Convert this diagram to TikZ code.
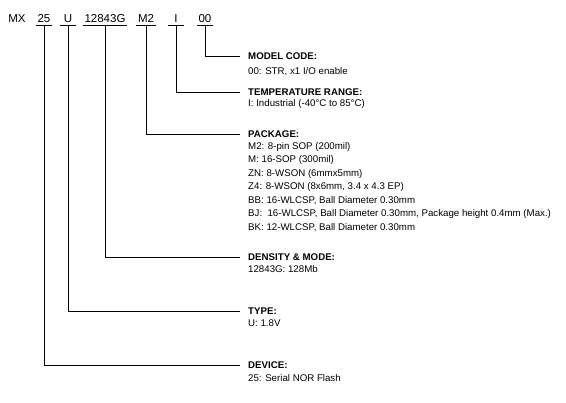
\documentclass[tikz,border=0pt]{standalone}
\usepackage{fontspec}
\setmainfont{Liberation Sans}
\usepackage{tikz}

\begin{document}
\begin{tikzpicture}[x=1pt, y=-1pt,
	fld/.style={anchor=base, inner xsep=1.5pt, inner ysep=2pt, minimum width=16pt, font=\fontsize{11.5}{13}\selectfont},
	hd/.style={anchor=base west, inner xsep=8pt, inner ysep=0pt, font=\fontsize{9.7}{12}\selectfont\bfseries},
	txt/.style={anchor=base west, inner sep=0pt, font=\fontsize{9.7}{12}\selectfont},
	lin/.style={line width=0.8pt}
	]
	\useasboundingbox (0,0) rectangle (566,403);

	\node[fld] (fMX) at (17,23) {MX};
	\node[fld] (f25) at (44,23) {25};
	\node[fld] (fU) at (68,23) {U};
	\node[fld] (f12843G) at (105,23) {12843G};
	\node[fld] (fM2) at (146,23) {M2};
	\node[fld] (fI) at (176,23) {I};
	\node[fld] (f00) at (205,23) {00};

	\draw[lin] (f25.south west) -- (f25.south east);
	\draw[lin] (fU.south west) -- (fU.south east);
	\draw[lin] (f12843G.south west) -- (f12843G.south east);
	\draw[lin] (fM2.south west) -- (fM2.south east);
	\draw[lin] (fI.south west) -- (fI.south east);
	\draw[lin] (f00.south west) -- (f00.south east);

	\node[hd] (hmodel) at (240,60) {MODEL CODE:};
	\node[txt] (tmodel) at (248,74.5) {00: STR, x1 I/O enable};

	\node[hd] (htemp) at (240,95.5) {TEMPERATURE RANGE:};
	\node[txt] (ttemp) at (248,106.5) {I: Industrial (-40°C to 85°C)};

	\node[hd] (hpkg) at (240,138) {PACKAGE:};
	\node[txt] (tpkg1) at (248,149.5) {M2: 8-pin SOP (200mil)};
	\node[txt] (tpkg2) at (248,163) {M: 16-SOP (300mil)};
	\node[txt] (tpkg3) at (248,176.5) {ZN: 8-WSON (6mmx5mm)};
	\node[txt] (tpkg4) at (248,190) {Z4: 8-WSON (8x6mm, 3.4 x 4.3 EP)};
	\node[txt] (tpkg5) at (248,203.5) {BB: 16-WLCSP, Ball Diameter 0.30mm};
	\node[txt] (tpkg6) at (248,217) {BJ:\ \ 16-WLCSP, Ball Diameter 0.30mm, Package height 0.4mm (Max.)};
	\node[txt] (tpkg7) at (248,230.5) {BK: 12-WLCSP, Ball Diameter 0.30mm};

	\node[hd] (hdens) at (240,261) {DENSITY \& MODE:};
	\node[txt] (tdens) at (248,272.5) {12843G: 128Mb};

	\node[hd] (htype) at (240,314.5) {TYPE:};
	\node[txt] (ttype) at (248,326.5) {U: 1.8V};

	\node[hd] (hdev) at (240,369) {DEVICE:};
	\node[txt] (tdev) at (248,381.5) {25: Serial NOR Flash};

	\draw[lin] (f00.south) |- (hmodel.west);
	\draw[lin] (fI.south) |- (htemp.west);
	\draw[lin] (fM2.south) |- (hpkg.west);
	\draw[lin] (f12843G.south) |- (hdens.west);
	\draw[lin] (fU.south) |- (htype.west);
	\draw[lin] (f25.south) |- (hdev.west);
\end{tikzpicture}
\end{document}
